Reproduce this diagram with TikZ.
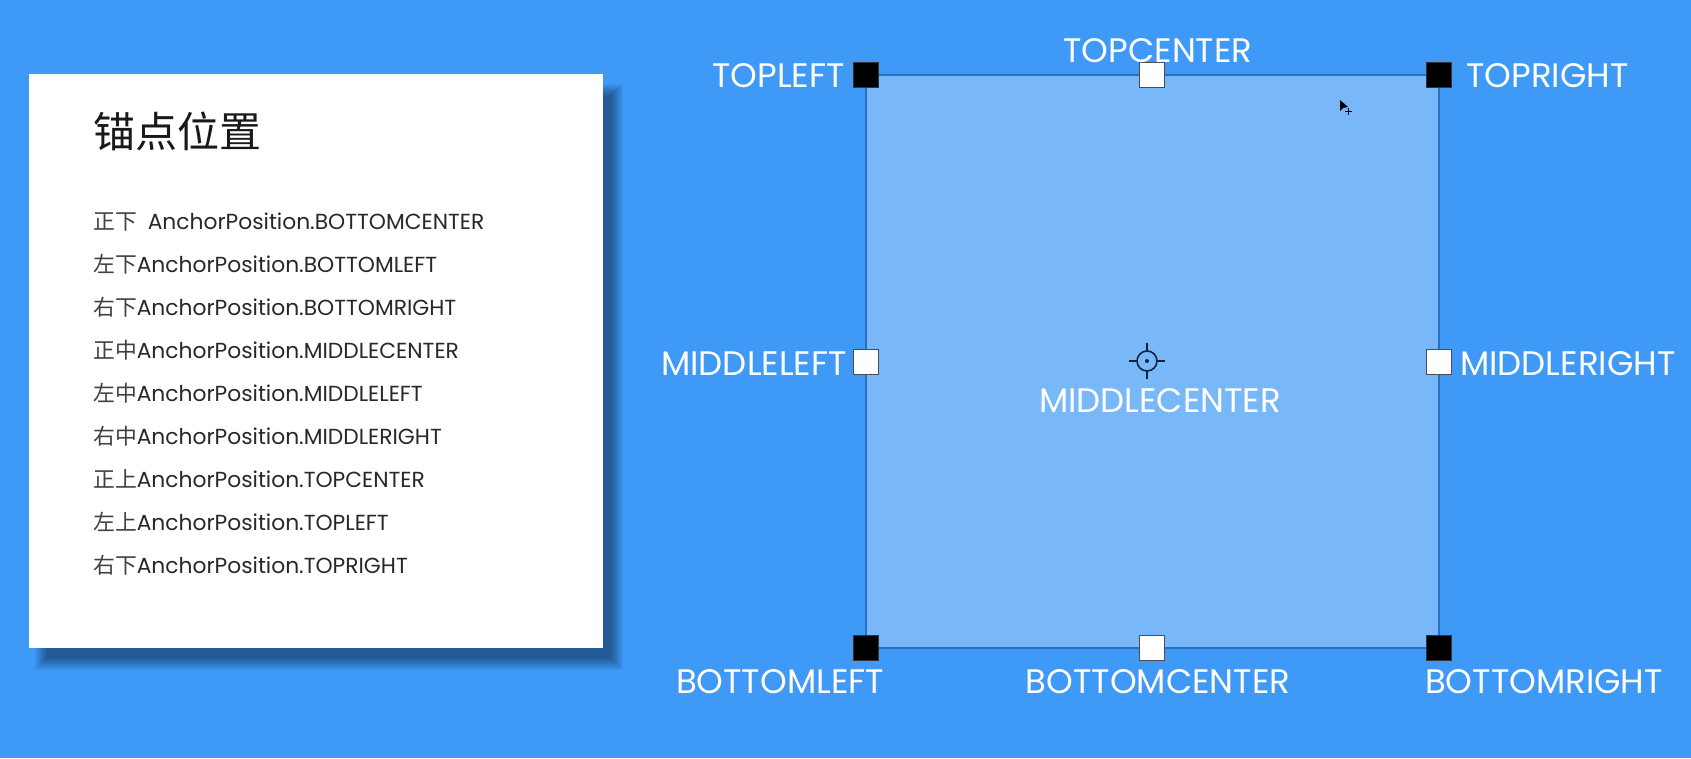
\documentclass[tikz,border=0pt]{standalone}
\usepackage{fontspec}
\setmainfont{Poppins}
\newfontfamily\cjk{Noto Sans CJK SC}
\definecolor{bgblue}{RGB}{63,153,247}
\definecolor{boxfill}{RGB}{121,184,248}
\definecolor{boxline}{RGB}{44,110,192}
\definecolor{txtdark}{RGB}{40,40,40}
\definecolor{crossc}{RGB}{20,35,60}
\tikzset{
  handleblack/.style={draw=black!80,fill=black,minimum size=25pt,inner sep=0,line width=0.8pt},
  handlewhite/.style={draw=black!70,fill=white,minimum size=25pt,inner sep=0,line width=0.8pt},
  lbl/.style={text=white,inner sep=0,font=\fontsize{34}{34}\selectfont},
  listline/.style={text=txtdark,inner sep=0,anchor=base west,font=\fontsize{21.8}{21.8}\selectfont},
}
\newcommand{\cj}[1]{{\cjk\color{black!75}#1}}
\begin{document}
\begin{tikzpicture}[x=1pt,y=-1pt]
\fill[bgblue] (0,0) rectangle (1691,758);
\useasboundingbox (0,0) rectangle (1691,758);
% card shadow
\foreach \i in {0,...,12}{
  \fill[black,opacity=0.035] (35-\i+12,84-\i+12) rectangle (611+\i-12+12,658+\i-12+12);
}
\coordinate (cardtl) at (29,74);
\coordinate (cardbr) at (603,648);
\fill[white] (cardtl) rectangle (cardbr);
\node[anchor=base west,inner sep=0,font=\cjk\fontsize{42}{42}\selectfont,text=black!90] (title) at (93,147) {锚点位置};
\node[listline] (l1) at (93,229) {\cj{正下}\hspace{11pt}AnchorPosition.BOTTOMCENTER};
\node[listline] (l2) at (93,272) {\cj{左下}AnchorPosition.BOTTOMLEFT};
\node[listline] (l3) at (93,315) {\cj{右下}AnchorPosition.BOTTOMRIGHT};
\node[listline] (l4) at (93,358) {\cj{正中}AnchorPosition.MIDDLECENTER};
\node[listline] (l5) at (93,401) {\cj{左中}AnchorPosition.MIDDLELEFT};
\node[listline] (l6) at (93,444) {\cj{右中}AnchorPosition.MIDDLERIGHT};
\node[listline] (l7) at (93,487) {\cj{正上}AnchorPosition.TOPCENTER};
\node[listline] (l8) at (93,530) {\cj{左上}AnchorPosition.TOPLEFT};
\node[listline] (l9) at (93,573) {\cj{右下}AnchorPosition.TOPRIGHT};
% anchor rectangle
\coordinate (tl) at (866,75);
\coordinate (tc) at (1152,75);
\coordinate (tr) at (1439,75);
\coordinate (ml) at (866,361.5);
\coordinate (mr) at (1439,361.5);
\coordinate (bl) at (866,648);
\coordinate (bc) at (1152,648);
\coordinate (br) at (1439,648);
\filldraw[fill=boxfill,draw=boxline,line width=2pt] (tl) rectangle (br);
\node[handleblack] (htl) at (tl) {};
\node[handlewhite] (htc) at (tc) {};
\node[handleblack] (htr) at (tr) {};
\node[handlewhite] (hml) at (ml) {};
\node[handlewhite] (hmr) at (mr) {};
\node[handleblack] (hbl) at (bl) {};
\node[handlewhite] (hbc) at (bc) {};
\node[handleblack] (hbr) at (br) {};
% crosshair
\coordinate (mc) at (1147,361);
\draw[crossc,line width=1.6pt] (mc) circle (10);
\fill[crossc] (mc) circle (2);
\draw[crossc,line width=1.6pt] ([xshift=-18pt]mc) -- ([xshift=-10pt]mc);
\draw[crossc,line width=1.6pt] ([xshift=18pt]mc) -- ([xshift=10pt]mc);
\draw[crossc,line width=1.6pt] ([yshift=-18pt]mc) -- ([yshift=-10pt]mc);
\draw[crossc,line width=1.6pt] ([yshift=18pt]mc) -- ([yshift=10pt]mc);
% labels
\node[lbl,anchor=base east] (ltl) at (845,87) {TOPLEFT};
\node[lbl,anchor=base] (ltc) at (1158,62) {TOPCENTER};
\node[lbl,anchor=base west] (ltr) at (1466,87) {TOPRIGHT};
\node[lbl,anchor=base east] (lml) at (847,375) {MIDDLELEFT};
\node[lbl,anchor=base west] (lmr) at (1460,375) {MIDDLERIGHT};
\node[lbl,anchor=base] (lmc) at (1160,412) {MIDDLECENTER};
\node[lbl,anchor=base] (lbl) at (780,693) {BOTTOMLEFT};
\node[lbl,anchor=base] (lbc) at (1158,693) {BOTTOMCENTER};
\node[lbl,anchor=base] (lbr) at (1544,693) {BOTTOMRIGHT};
% cursor
\coordinate (cur) at (1340,100);
\fill[black] (cur) -- ++(0,11) -- ++(3,-3) -- ++(5,-1) -- cycle;
\draw[black,line width=0.8pt] ([shift={(5,11)}]cur) -- ++(7,0) ([shift={(8.5,7.5)}]cur) -- ++(0,7);
\end{tikzpicture}
\end{document}
